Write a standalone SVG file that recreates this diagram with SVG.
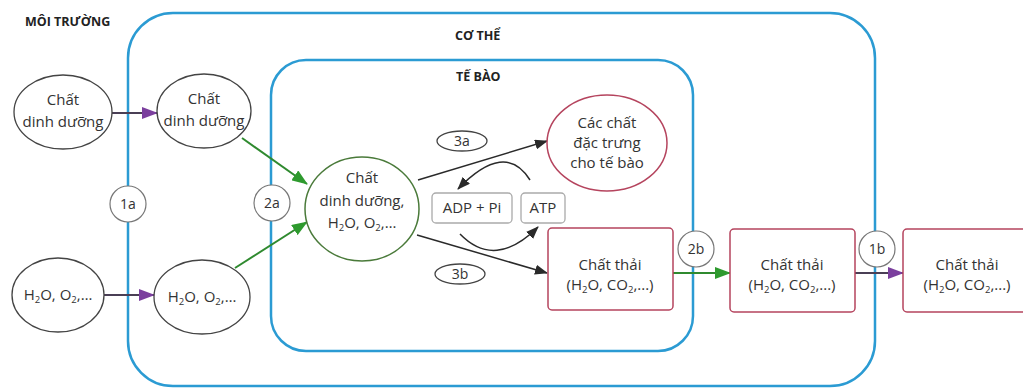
<svg xmlns="http://www.w3.org/2000/svg" width="1023" height="391" viewBox="0 0 1023 391">
<defs>
<style>
text{font-family:"Open Sans","Noto Sans","Liberation Sans",sans-serif;font-size:15px;fill:#333;text-anchor:middle}
.lbl{font-weight:bold;font-size:12.5px;fill:#222;text-anchor:start}
.sm{font-size:14px}
.sub{font-size:9.5px}
.zone{fill:none;stroke:#2b9bd3;stroke-width:2.5}
.ell{fill:#fff;stroke:#444;stroke-width:1.3}
.cell{fill:#fff;stroke:#4a7a3a;stroke-width:1.5}
.red{fill:#fff;stroke:#b5445e;stroke-width:1.5}
.gbox{fill:#fff;stroke:#aaa;stroke-width:1.3}
.badge{fill:#fff;stroke:#777;stroke-width:1.2}
.pl{stroke:#4a3f55;stroke-width:2;fill:none}
.gl{stroke:#2f8a2f;stroke-width:2;fill:none}
.bl{stroke:#2a2a2a;stroke-width:1.5;fill:none}
</style>
<marker id="mp" markerUnits="userSpaceOnUse" markerWidth="16" markerHeight="12" refX="15" refY="6" orient="auto"><path d="M0,0 L16,6 L0,12 Z" fill="#7b3f9e"/></marker>
<marker id="mg" markerUnits="userSpaceOnUse" markerWidth="16" markerHeight="12" refX="15" refY="6" orient="auto"><path d="M0,0 L16,6 L0,12 Z" fill="#2e9a2e"/></marker>
<marker id="mb" markerUnits="userSpaceOnUse" markerWidth="13" markerHeight="10" refX="12" refY="5" orient="auto"><path d="M0,0 L13,5 L0,10 Z" fill="#2a2a2a"/></marker>
</defs>
<rect width="1023" height="391" fill="#fff"/>

<g id="zones">
<rect class="zone" x="128" y="13" width="747" height="373" rx="45"/>
<rect class="zone" x="271" y="60" width="422" height="291" rx="35"/>
<text class="lbl" x="25" y="26">MÔI TRƯỜNG</text>
<text class="lbl" x="455" y="40">CƠ THỂ</text>
<text class="lbl" x="456" y="81">TẾ BÀO</text>
</g>

<g id="connectors">
<line class="pl" x1="112" y1="113" x2="157" y2="113" marker-end="url(#mp)"/>
<line class="pl" x1="103" y1="295" x2="154" y2="295" marker-end="url(#mp)"/>
<line class="gl" x1="242" y1="138" x2="307" y2="184" marker-end="url(#mg)"/>
<line class="gl" x1="235" y1="268" x2="307" y2="222" marker-end="url(#mg)"/>
<line class="bl" x1="418" y1="180" x2="547" y2="141" marker-end="url(#mb)"/>
<line class="bl" x1="417" y1="235" x2="547" y2="273" marker-end="url(#mb)"/>
<path class="bl" d="M530,180 Q505,140 458,189" marker-end="url(#mb)"/>
<path class="bl" d="M460,234 Q495,270 538,227" marker-end="url(#mb)"/>
<line class="gl" x1="673" y1="273" x2="730" y2="273" marker-end="url(#mg)"/>
<line class="pl" x1="855" y1="273" x2="903" y2="273" marker-end="url(#mp)"/>
</g>

<g id="env-nutrient">
<ellipse class="ell" cx="63" cy="112" rx="49" ry="37"/>
<text x="63" y="105">Chất</text>
<text x="63" y="127">dinh dưỡng</text>
</g>
<g id="body-nutrient">
<ellipse class="ell" cx="204" cy="111" rx="47" ry="37"/>
<text x="204" y="104">Chất</text>
<text x="204" y="126">dinh dưỡng</text>
</g>
<g id="env-gas">
<ellipse class="ell" cx="58" cy="295" rx="46" ry="37"/>
<text x="58" y="300">H<tspan class="sub" dy="3">2</tspan><tspan dy="-3">O, O</tspan><tspan class="sub" dy="3">2</tspan><tspan dy="-3">,…</tspan></text>
</g>
<g id="body-gas">
<ellipse class="ell" cx="202" cy="297" rx="48" ry="37"/>
<text x="202" y="302">H<tspan class="sub" dy="3">2</tspan><tspan dy="-3">O, O</tspan><tspan class="sub" dy="3">2</tspan><tspan dy="-3">,…</tspan></text>
</g>

<g id="badge-1a"><circle class="badge" cx="128" cy="204" r="18"/><text class="sm" x="128" y="209">1a</text></g>
<g id="badge-2a"><circle class="badge" cx="272" cy="203" r="18"/><text class="sm" x="272" y="208">2a</text></g>
<g id="badge-2b"><circle class="badge" cx="696" cy="249" r="18"/><text class="sm" x="696" y="254">2b</text></g>
<g id="badge-1b"><circle class="badge" cx="877" cy="249" r="18"/><text class="sm" x="877" y="254">1b</text></g>

<g id="cell-nutrient">
<ellipse class="cell" cx="362" cy="209" rx="57" ry="52"/>
<text x="362" y="183">Chất</text>
<text x="362" y="206">dinh dưỡng,</text>
<text x="362" y="228">H<tspan class="sub" dy="3">2</tspan><tspan dy="-3">O, O</tspan><tspan class="sub" dy="3">2</tspan><tspan dy="-3">,…</tspan></text>
</g>

<g id="label-3a"><ellipse class="ell" cx="462" cy="141" rx="25" ry="10"/><text class="sm" x="462" y="146">3a</text></g>
<g id="label-3b"><ellipse class="ell" cx="460" cy="274" rx="25" ry="10"/><text class="sm" x="460" y="279">3b</text></g>

<g id="adp"><rect class="gbox" x="432" y="193" width="80" height="30" rx="4"/><text x="472" y="213">ADP + Pi</text></g>
<g id="atp"><rect class="gbox" x="521" y="193" width="44" height="30" rx="4"/><text x="543" y="213">ATP</text></g>

<g id="specific">
<ellipse class="red" cx="607" cy="143" rx="60" ry="48"/>
<text x="607" y="128">Các chất</text>
<text x="607" y="148">đặc trưng</text>
<text x="607" y="168">cho tế bào</text>
</g>

<g id="waste-cell">
<rect class="red" x="548" y="228" width="125" height="82" rx="4"/>
<text x="610" y="270">Chất thải</text>
<text x="610" y="290">(H<tspan class="sub" dy="3">2</tspan><tspan dy="-3">O, CO</tspan><tspan class="sub" dy="3">2</tspan><tspan dy="-3">,...)</tspan></text>
</g>
<g id="waste-body">
<rect class="red" x="730" y="229" width="125" height="83" rx="4"/>
<text x="792" y="270">Chất thải</text>
<text x="792" y="290">(H<tspan class="sub" dy="3">2</tspan><tspan dy="-3">O, CO</tspan><tspan class="sub" dy="3">2</tspan><tspan dy="-3">,...)</tspan></text>
</g>
<g id="waste-env">
<rect class="red" x="903" y="229" width="140" height="83" rx="4"/>
<text x="967" y="270">Chất thải</text>
<text x="967" y="290">(H<tspan class="sub" dy="3">2</tspan><tspan dy="-3">O, CO</tspan><tspan class="sub" dy="3">2</tspan><tspan dy="-3">,...)</tspan></text>
</g>
</svg>
